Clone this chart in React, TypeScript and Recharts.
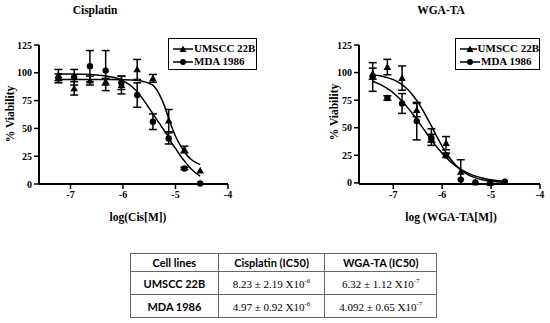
import { ComposedChart, Line, Scatter, ErrorBar, XAxis, YAxis } from 'recharts';

const SERIF = '"Liberation Serif", "Times New Roman", serif';
const SANS = 'Lato, "Open Sans", sans-serif';

// Cisplatin panel: measured points
const cisDose = [-7.23, -6.93, -6.63, -6.33, -6.03, -5.73, -5.43, -5.13, -4.83, -4.53];
const cisUmscc = [98, 86, 93, 92, 89, 103, 95, 57, 31, 12];
const cisUmsccErr = [5, 6, 4, 3, 8, 9, 3.5, 10, 3, 0];
const cisMda = [95, 96, 106, 102, 91, 80, 56, 41, 14, 0.5];
const cisMdaErr = [4, 7, 14, 18, 6, 11, 7, 5, 1, 0];

// Cisplatin panel: fitted curves
const cisFitDose = [-7.23, -7, -6.75, -6.5, -6.25, -6, -5.75, -5.6, -5.5, -5.4, -5.3, -5.2, -5.13, -5.1, -5, -4.9, -4.8, -4.7, -4.6, -4.53];
const cisUmsccFit = [94, 94, 94, 94, 94, 93.8, 93.2, 92, 90.5, 87.5, 80, 69, 59, 55, 43, 34, 27, 22, 19, 17.5];
const cisMdaFit = [99, 99, 98.8, 98, 96.5, 93, 84, 75, 68, 61, 54, 47, 42, 39, 32, 25, 19, 13.5, 9.5, 7];

// WGA-TA panel: measured points
const wgaDose = [-7.42, -7.12, -6.82, -6.52, -6.22, -5.92, -5.62, -5.32, -5.02, -4.72];
const wgaUmscc = [99, 105, 95, 66, 43, 36, 10, 0.5, 0, 1];
const wgaUmsccErr = [5, 7, 11, 6, 6, 6, 11, 0, 0, 0];
const wgaMda = [96, 77, 72, 56, 39, 25, 3, 0.5, 0, 1];
const wgaMdaErr = [13, 2, 9, 17, 5, 2, 0, 0, 0, 0];

// WGA-TA panel: fitted curves
const wgaFitDose = [-7.42, -7.25, -7.1, -7, -6.9, -6.8, -6.7, -6.6, -6.5, -6.4, -6.3, -6.2, -6.1, -6, -5.9, -5.8, -5.7, -5.6, -5.5, -5.4, -5.3, -5.2, -5.1, -5, -4.9, -4.8, -4.72];
const wgaUmsccFit = [98, 96.9, 95.2, 93.6, 91.4, 88.4, 84.5, 79.5, 73.4, 66.3, 58.3, 49.8, 41.2, 33.2, 26.1, 20, 15, 11.1, 8.2, 5.9, 4.3, 3.1, 2.2, 1.6, 1.1, 0.8, 0.6];
const wgaMdaFit = [92.2, 88.9, 84.9, 81.6, 77.6, 73.1, 68, 62.4, 56.3, 50.1, 43.9, 37.8, 32.1, 26.9, 22.2, 18.1, 14.7, 11.8, 9.4, 7.5, 5.9, 4.6, 3.6, 2.8, 2.2, 1.7, 1.4];

const yTicks = [0, 25, 50, 75, 100, 125];
const xTicks = [-7, -6, -5, -4];
const seriesNames = ['UMSCC 22B', 'MDA 1986'];

const tableHead = ['Cell lines', 'Cisplatin (IC50)', 'WGA-TA (IC50)'];
const tableRows = [
  ['UMSCC 22B', '8.23 ± 2.19 X10', '-6', '6.32 ± 1.12 X10', '-7'],
  ['MDA 1986', '4.97 ± 0.92 X10', '-6', '4.092 ± 0.65 X10', '-7'],
];

const pts = (xs: number[], ys: number[], errs: number[]) =>
  xs.map((x, i) => ({ x, y: ys[i], err: errs[i] }));
const fit = (xs: number[], ys: number[]) => xs.map((x, i) => ({ x, y: ys[i] }));

const Tri = (p: any) => (
  <polygon
    points={`${p.cx},${p.cy - 3.8} ${p.cx - 3.8},${p.cy + 2.9} ${p.cx + 3.8},${p.cy + 2.9}`}
    fill="#000"
  />
);
const Dot = (p: any) => <circle cx={p.cx} cy={p.cy} r={3.2} fill="#000" />;

const tickStyle = { fill: '#000', fontFamily: SERIF, fontWeight: 700, fontSize: 10 };

function LegendBox({ left, top, width }: { left: number; top: number; width: number }) {
  return (
    <div
      style={{
        position: 'absolute', left, top, width, height: 32, boxSizing: 'border-box',
        border: '1.5px solid #000', background: '#fff', fontFamily: SERIF, fontWeight: 700,
        fontSize: 11, lineHeight: '13px', paddingTop: 3, overflow: 'hidden', whiteSpace: 'nowrap',
      }}
    >
      {seriesNames.map((n, i) => (
        <div key={n} style={{ display: 'flex', alignItems: 'center', height: 13 }}>
          <svg width={20} height={10} style={{ marginLeft: 4, marginRight: 1 }}>
            <line x1={0} y1={5} x2={20} y2={5} stroke="#000" strokeWidth={1.5} />
            {i === 0 ? <polygon points="10,1.5 6.5,8 13.5,8" fill="#000" /> : <circle cx={10} cy={5} r={3} fill="#000" />}
          </svg>
          <span>{n}</span>
        </div>
      ))}
    </div>
  );
}

function Label({ x, y, text, rotate }: { x: number; y: number; text: string; rotate?: boolean }) {
  return (
    <div
      style={{
        position: 'absolute', left: x, top: y, transform: `translate(-50%, -50%)${rotate ? ' rotate(-90deg)' : ''}`,
        fontFamily: SERIF, fontWeight: 700, fontSize: 11.5, whiteSpace: 'nowrap', color: '#000',
      }}
    >
      {text}
    </div>
  );
}

function Panel(props: {
  left: number; yAxisWidth: number; right: number; domain: [number, number];
  umscc: any[]; mda: any[]; umsccFit: any[]; mdaFit: any[];
}) {
  return (
    <div style={{ position: 'absolute', left: props.left, top: 0 }}>
      <ComposedChart width={275} height={230} margin={{ top: 45, right: props.right, bottom: 26, left: 0 }}>
        <XAxis
          type="number" dataKey="x" domain={props.domain} ticks={xTicks} allowDataOverflow
          axisLine={{ stroke: '#000', strokeWidth: 2 }} tickLine={{ stroke: '#000', strokeWidth: 1.5 }}
          tickSize={5} height={20} tick={tickStyle}
        />
        <YAxis
          type="number" dataKey="y" domain={[0, 125]} ticks={yTicks} width={props.yAxisWidth}
          axisLine={{ stroke: '#000', strokeWidth: 2 }} tickLine={{ stroke: '#000', strokeWidth: 1.5 }}
          tickSize={5} tick={tickStyle}
        />
        <Line data={props.umsccFit} dataKey="y" type="monotone" stroke="#000" strokeWidth={1.5} dot={false} isAnimationActive={false} />
        <Line data={props.mdaFit} dataKey="y" type="monotone" stroke="#000" strokeWidth={1.5} dot={false} isAnimationActive={false} />
        <Scatter data={props.umscc} shape={Tri} isAnimationActive={false}>
          <ErrorBar dataKey="err" direction="y" width={4} stroke="#000" strokeWidth={1.5} />
        </Scatter>
        <Scatter data={props.mda} shape={Dot} isAnimationActive={false}>
          <ErrorBar dataKey="err" direction="y" width={4} stroke="#000" strokeWidth={1.5} />
        </Scatter>
      </ComposedChart>
    </div>
  );
}

const cell = (extra: any = {}) => ({
  border: '1px solid #666', padding: 0, textAlign: 'center' as const, color: '#000', ...extra,
});

export default function App() {
  return (
    <div style={{ position: 'absolute', left: 0, top: 0, width: 550, height: 323, background: '#fff', overflow: 'hidden' }}>
      <Panel
        left={0} yAxisWidth={39} right={47} domain={[-7.6, -4]}
        umscc={pts(cisDose, cisUmscc, cisUmsccErr)} mda={pts(cisDose, cisMda, cisMdaErr)}
        umsccFit={fit(cisFitDose, cisUmsccFit)} mdaFit={fit(cisFitDose, cisMdaFit)}
      />
      <Panel
        left={275} yAxisWidth={84} right={10} domain={[-7.7, -4]}
        umscc={pts(wgaDose, wgaUmscc, wgaUmsccErr)} mda={pts(wgaDose, wgaMda, wgaMdaErr)}
        umsccFit={fit(wgaFitDose, wgaUmsccFit)} mdaFit={fit(wgaFitDose, wgaMdaFit)}
      />
      <Label x={95} y={10} text="Cisplatin" />
      <Label x={441} y={10} text="WGA-TA" />
      <Label x={138} y={217} text="log(Cis[M])" />
      <Label x={451} y={217} text="log (WGA-TA[M])" />
      <Label x={10} y={114} text="% Viability" rotate />
      <Label x={334} y={112} text="% Viability" rotate />
      <LegendBox left={168} top={38} width={89} />
      <LegendBox left={455} top={38} width={85} />
      <table
        style={{
          position: 'absolute', left: 130, top: 253, borderCollapse: 'collapse', width: 307,
          border: '1.5px solid #666', fontSize: 11,
        }}
      >
        <colgroup>
          <col style={{ width: 88 }} />
          <col style={{ width: 107 }} />
          <col style={{ width: 112 }} />
        </colgroup>
        <tbody>
          <tr style={{ height: 18 }}>
            {tableHead.map((h) => (
              <td key={h} style={cell({ fontFamily: SANS, fontWeight: 700 })}>{h}</td>
            ))}
          </tr>
          {tableRows.map((r) => (
            <tr key={r[0]} style={{ height: 23 }}>
              <td style={cell({ fontFamily: SANS, fontWeight: 700 })}>{r[0]}</td>
              <td style={cell({ fontFamily: SERIF })}>
                {r[1]}<sup style={{ fontSize: 7 }}>{r[2]}</sup>
              </td>
              <td style={cell({ fontFamily: SERIF })}>
                {r[3]}<sup style={{ fontSize: 7 }}>{r[4]}</sup>
              </td>
            </tr>
          ))}
        </tbody>
      </table>
    </div>
  );
}
